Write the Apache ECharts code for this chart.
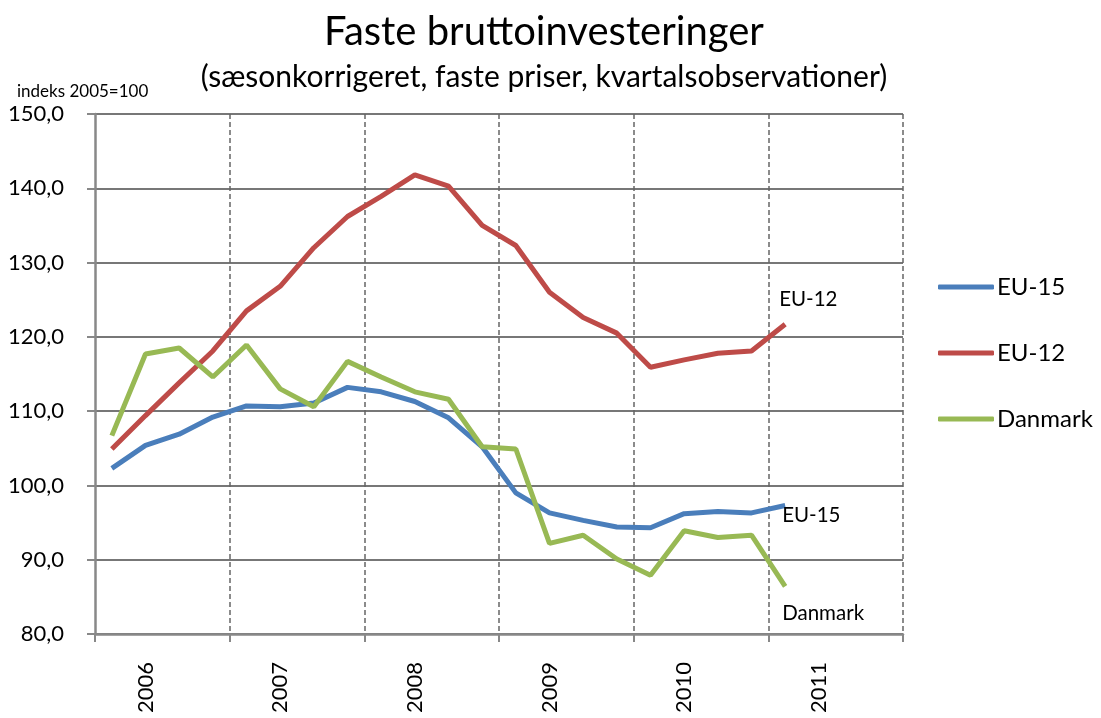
<!DOCTYPE html>
<html>
<head>
<meta charset="utf-8">
<script src="https://cdn.jsdelivr.net/npm/echarts@6/dist/echarts.min.js"></script>
<style>
  html, body { margin: 0; padding: 0; background: #fff; }
  #chart { width: 1101px; height: 718px; }
</style>
</head>
<body>
<div id="chart"></div>
<script>
// kvartaler 2006K1 - 2011K4
var years = ['2006', '2007', '2008', '2009', '2010', '2011'];
var quarters = [];
years.forEach(function (y) {
    for (var q = 1; q <= 4; q++) quarters.push(y + 'K' + q);
});

var eu15 = [102.3, 105.4, 106.9, 109.2, 110.7, 110.6, 111.1, 113.2, 112.6, 111.3, 109.1, 105.2,
    99.0, 96.3, 95.3, 94.4, 94.3, 96.2, 96.5, 96.3, 97.3];
var eu12 = [104.9, 109.4, 113.8, 118.1, 123.5, 126.8, 132.0, 136.2, 138.9, 141.8, 140.3, 135.0,
    132.3, 126.0, 122.6, 120.5, 115.9, 116.9, 117.8, 118.1, 121.7];
var danmark = [106.7, 117.7, 118.5, 114.6, 118.9, 113.0, 110.6, 116.7, 114.6, 112.6, 111.6, 105.2,
    104.9, 92.2, 93.3, 90.1, 87.9, 93.9, 93.0, 93.3, 86.4];

var font = 'Lato, "Open Sans", sans-serif';

var chart = echarts.init(document.getElementById('chart'), null, { renderer: 'canvas' });

function endLab(text, dx, dy) {
    return {
        show: true,
        formatter: text,
        offset: [dx, dy],
        fontFamily: font,
        fontSize: 20.5,
        color: '#000'
    };
}

var option = {
    animation: false,
    backgroundColor: '#fff',
    title: [{
        text: 'Faste bruttoinvesteringer',
        left: 539,
        textAlign: 'center',
        top: 7,
        textStyle: { fontFamily: font, fontSize: 40, fontWeight: 'normal', color: '#000' }
    }, {
        text: '(sæsonkorrigeret, faste priser, kvartalsobservationer)',
        left: 539,
        textAlign: 'center',
        top: 57,
        textStyle: { fontFamily: font, fontSize: 30, fontWeight: 'normal', color: '#000' }
    }, {
        text: 'indeks 2005=100',
        left: 12,
        top: 78,
        textStyle: { fontFamily: font, fontSize: 17, fontWeight: 'normal', color: '#000' }
    }],
    legend: {
        orient: 'vertical',
        left: 933,
        top: 270,
        itemWidth: 56,
        itemHeight: 5,
        itemGap: 42,
        icon: 'roundRect',
        textStyle: { fontFamily: font, fontSize: 24, color: '#000', padding: [0, 0, 0, -2] },
        data: ['EU-15', 'EU-12', 'Danmark']
    },
    grid: { left: 95, right: 198, top: 114, bottom: 84 },
    xAxis: {
        type: 'category',
        data: quarters,
        boundaryGap: true,
        axisLine: { lineStyle: { color: '#888', width: 2.5 } },
        axisTick: {
            show: true,
            length: 8,
            interval: function (i) { return i % 4 === 0; },
            lineStyle: { color: '#888', width: 2 }
        },
        splitLine: {
            show: true,
            interval: function (i) { return i % 4 === 0 && i > 0; },
            lineStyle: { color: '#666', width: 1.5, type: [5, 3] }
        },
        axisLabel: {
            interval: function (i) { return i % 4 === 1; },
            formatter: function (v) { return v.slice(0, 4); },
            rotate: 90,
            margin: 28,
            fontFamily: font,
            fontSize: 22,
            color: '#000'
        }
    },
    yAxis: {
        type: 'value',
        min: 80,
        max: 150,
        interval: 10,
        axisLine: { show: true, lineStyle: { color: '#888', width: 2.5 } },
        axisTick: { show: true, length: 8, lineStyle: { color: '#888', width: 2 } },
        splitLine: { lineStyle: { color: '#777', width: 2 } },
        axisLabel: {
            margin: 31,
            formatter: function (v) { return v.toFixed(1).replace('.', ','); },
            fontFamily: font,
            fontSize: 22,
            color: '#000'
        }
    },
    series: [{
        name: 'EU-15',
        type: 'line',
        data: eu15,
        symbol: 'none',
        lineStyle: { color: '#4A7EBB', width: 5 },
        itemStyle: { color: '#4A7EBB' },
        endLabel: endLab('EU-15', -11, 10)
    }, {
        name: 'EU-12',
        type: 'line',
        data: eu12,
        symbol: 'none',
        lineStyle: { color: '#BE4B48', width: 5 },
        itemStyle: { color: '#BE4B48' },
        endLabel: endLab('EU-12', -14, -25)
    }, {
        name: 'Danmark',
        type: 'line',
        data: danmark,
        symbol: 'none',
        lineStyle: { color: '#98B954', width: 5 },
        itemStyle: { color: '#98B954' },
        endLabel: endLab('Danmark', -11, 27)
    }]
};
chart.setOption(option);
</script>
</body>
</html>
